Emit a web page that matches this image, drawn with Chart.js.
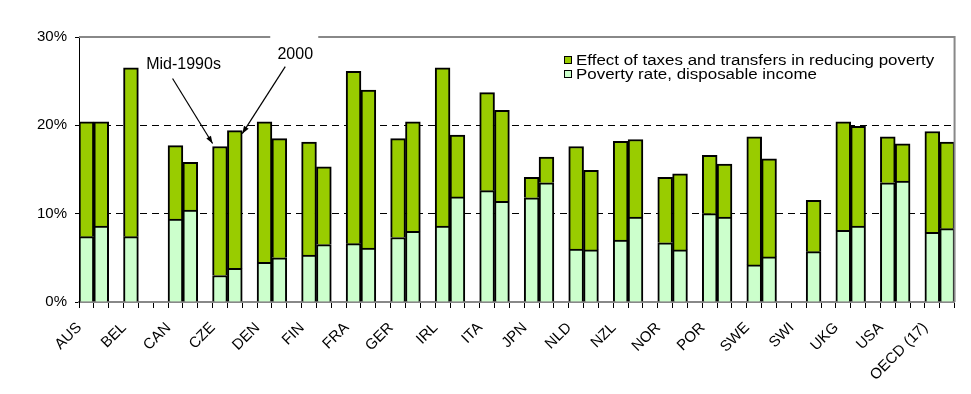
<!DOCTYPE html>
<html>
<head>
<meta charset="utf-8">
<script src="https://cdn.jsdelivr.net/npm/chart.js@4"></script>
<style>
  body { margin: 0; background: #fff; }
</style>
</head>
<body>
<canvas id="grafico" width="971" height="394"></canvas>
<script>
// Datos (% de la población)
const paises = ['AUS', 'BEL', 'CAN', 'CZE', 'DEN', 'FIN', 'FRA', 'GER', 'IRL', 'ITA',
  'JPN', 'NLD', 'NZL', 'NOR', 'POR', 'SWE', 'SWI', 'UKG', 'USA', 'OECD (17)'];
// altura total de la barra = pobreza antes de impuestos y transferencias
const totalMid90 = [20.4, 26.5, 17.7, 17.6, 20.4, 18.1, 26.1, 18.5, 26.5, 23.7,
  14.1, 17.6, 18.2, 14.1, 16.6, 18.7, null, 20.4, 18.7, 19.3];
const dispMid90 = [7.4, 7.4, 9.4, 3.0, 4.5, 5.3, 6.6, 7.3, 8.6, 12.6,
  11.8, 6.0, 7.0, 6.7, 10.0, 4.2, null, 8.1, 13.5, 7.9];
const total2000 = [20.4, null, 15.8, 19.4, 18.5, 15.3, 24.0, 20.4, 18.9, 21.7,
  16.4, 14.9, 18.4, 14.5, 15.6, 16.2, 11.5, 19.9, 17.9, 18.1];
const disp2000 = [8.6, null, 10.4, 3.8, 5.0, 6.5, 6.1, 8.0, 11.9, 11.4,
  13.5, 5.9, 9.6, 5.9, 9.6, 5.1, 5.7, 8.6, 13.7, 8.3];
const ticksY = [0, 10, 20, 30];

const verdeOscuro = '#99cc00';
const verdeClaro = '#ccffcc';
const fuente = '"Liberation Sans", Arial, sans-serif';

// cada país ocupa dos huecos (mediados 90 y 2000) más uno vacío
const etiquetas = [], disponible = [], efecto = [];
const dif = (t, d) => (t == null || d == null) ? null : +(t - d).toFixed(2);
paises.forEach((p, i) => {
  etiquetas.push(p, '');
  disponible.push(dispMid90[i], disp2000[i]);
  efecto.push(dif(totalMid90[i], dispMid90[i]), dif(total2000[i], disp2000[i]));
  if (i < paises.length - 1) {
    etiquetas.push('');
    disponible.push(null);
    efecto.push(null);
  }
});

// marco gris arriba y a la derecha
const marco = {
  id: 'marco',
  afterDraw(chart) {
    const { ctx, chartArea: a } = chart;
    ctx.save();
    ctx.strokeStyle = '#888';
    ctx.lineWidth = 2;
    ctx.beginPath();
    ctx.moveTo(a.left, a.top);
    ctx.lineTo(a.right, a.top);
    ctx.lineTo(a.right, a.bottom);
    ctx.stroke();
    ctx.restore();
  }
};

function flecha(ctx, x1, y1, x2, y2) {
  ctx.beginPath();
  ctx.moveTo(x1, y1);
  ctx.lineTo(x2, y2);
  ctx.stroke();
  const ang = Math.atan2(y2 - y1, x2 - x1), L = 8;
  ctx.beginPath();
  ctx.moveTo(x2, y2);
  ctx.lineTo(x2 - L * Math.cos(ang - 0.35), y2 - L * Math.sin(ang - 0.35));
  ctx.lineTo(x2 - L * Math.cos(ang + 0.35), y2 - L * Math.sin(ang + 0.35));
  ctx.closePath();
  ctx.fill();
}

// notas "Mid-1990s" y "2000" apuntando a las barras de CZE
const anotaciones = {
  id: 'anotaciones',
  afterDraw(chart) {
    const { ctx } = chart;
    const xs = chart.scales.x, ys = chart.scales.y;
    const k = paises.indexOf('CZE');
    const slot = k * 3;
    const ancho = xs.getPixelForValue(slot + 1) - xs.getPixelForValue(slot);
    const p1 = { x: xs.getPixelForValue(slot) - ancho / 2, y: ys.getPixelForValue(totalMid90[k]) - 3 };
    const p2 = { x: xs.getPixelForValue(slot + 1) + ancho / 2, y: ys.getPixelForValue(total2000[k]) + 3 };
    ctx.save();
    ctx.strokeStyle = '#000';
    ctx.fillStyle = '#000';
    ctx.lineWidth = 1.2;
    flecha(ctx, p1.x - 40, p1.y - 65, p1.x, p1.y);
    flecha(ctx, p2.x + 43, p2.y - 67, p2.x, p2.y);
    ctx.font = '16px ' + fuente;
    ctx.textAlign = 'center';
    ctx.textBaseline = 'alphabetic';
    ctx.fillText('Mid-1990s', p1.x - 29, p1.y - 75);
    ctx.fillStyle = '#fff';
    ctx.fillRect(p2.x + 28, p2.y - 104, 48, 30);
    ctx.fillStyle = '#000';
    ctx.fillText('2000', p2.x + 53, p2.y - 75);
    ctx.restore();
  }
};

// leyenda dentro del área del gráfico, arriba a la derecha
const leyenda = {
  id: 'leyenda',
  afterDraw(chart) {
    const { ctx, chartArea: a } = chart;
    const items = [
      { texto: 'Effect of taxes and transfers in reducing poverty', color: verdeOscuro },
      { texto: 'Poverty rate, disposable income', color: verdeClaro }
    ];
    const x0 = a.left + 485;
    ctx.save();
    ctx.font = '15.4px ' + fuente;
    ctx.textBaseline = 'alphabetic';
    items.forEach((it, n) => {
      const yb = a.top + 28 + n * 14;
      const yq = yb - 9;
      ctx.fillStyle = it.color;
      ctx.fillRect(x0, yq, 7, 7);
      ctx.strokeStyle = '#000';
      ctx.lineWidth = 1;
      ctx.strokeRect(x0 + 0.5, yq + 0.5, 7, 7);
      ctx.fillStyle = '#000';
      ctx.save();
      ctx.translate(x0 + 12, yb);
      ctx.scale(1.1, 1);
      ctx.fillText(it.texto, 0, 0);
      ctx.restore();
    });
    ctx.restore();
  }
};

new Chart(document.getElementById('grafico'), {
  type: 'bar',
  data: {
    labels: etiquetas,
    datasets: [{
      label: 'Poverty rate, disposable income',
      data: disponible,
      backgroundColor: verdeClaro,
      borderColor: '#000',
      borderWidth: 2
    }, {
      label: 'Effect of taxes and transfers in reducing poverty',
      data: efecto,
      backgroundColor: verdeOscuro,
      borderColor: '#000',
      borderWidth: 2
    }]
  },
  options: {
    responsive: false,
    animation: false,
    layout: { padding: { top: 37, right: 14, left: 0, bottom: 0 } },
    datasets: { bar: { categoryPercentage: 1, barPercentage: 1 } },
    plugins: {
      legend: { display: false },
      tooltip: { enabled: false }
    },
    scales: {
      x: {
        stacked: true,
        afterFit: s => { s.height = 92; },
        grid: { drawOnChartArea: false, tickLength: 6, tickColor: '#000', tickWidth: 1, offset: true },
        border: { color: '#888', width: 2 },
        ticks: {
          autoSkip: false,
          minRotation: 45,
          maxRotation: 45,
          padding: 11,
          labelOffset: -7,
          color: '#000',
          font: { family: fuente, size: 15 }
        }
      },
      y: {
        stacked: true,
        min: 0,
        max: 30,
        afterFit: s => { s.width = 79; },
        afterBuildTicks: s => { s.ticks = ticksY.map(v => ({ value: v })); },
        grid: {
          color: c => (c.tick && c.tick.value > 0 && c.tick.value < 30) ? '#000' : 'rgba(0,0,0,0)',
          tickColor: '#000',
          tickLength: 4,
          lineWidth: 1
        },
        border: { color: '#000', width: 1, dash: [7, 5] },
        ticks: {
          padding: 8,
          color: '#000',
          font: { family: fuente, size: 15 },
          callback: v => v + '%'
        }
      }
    }
  },
  plugins: [marco, anotaciones, leyenda]
});
</script>
</body>
</html>
